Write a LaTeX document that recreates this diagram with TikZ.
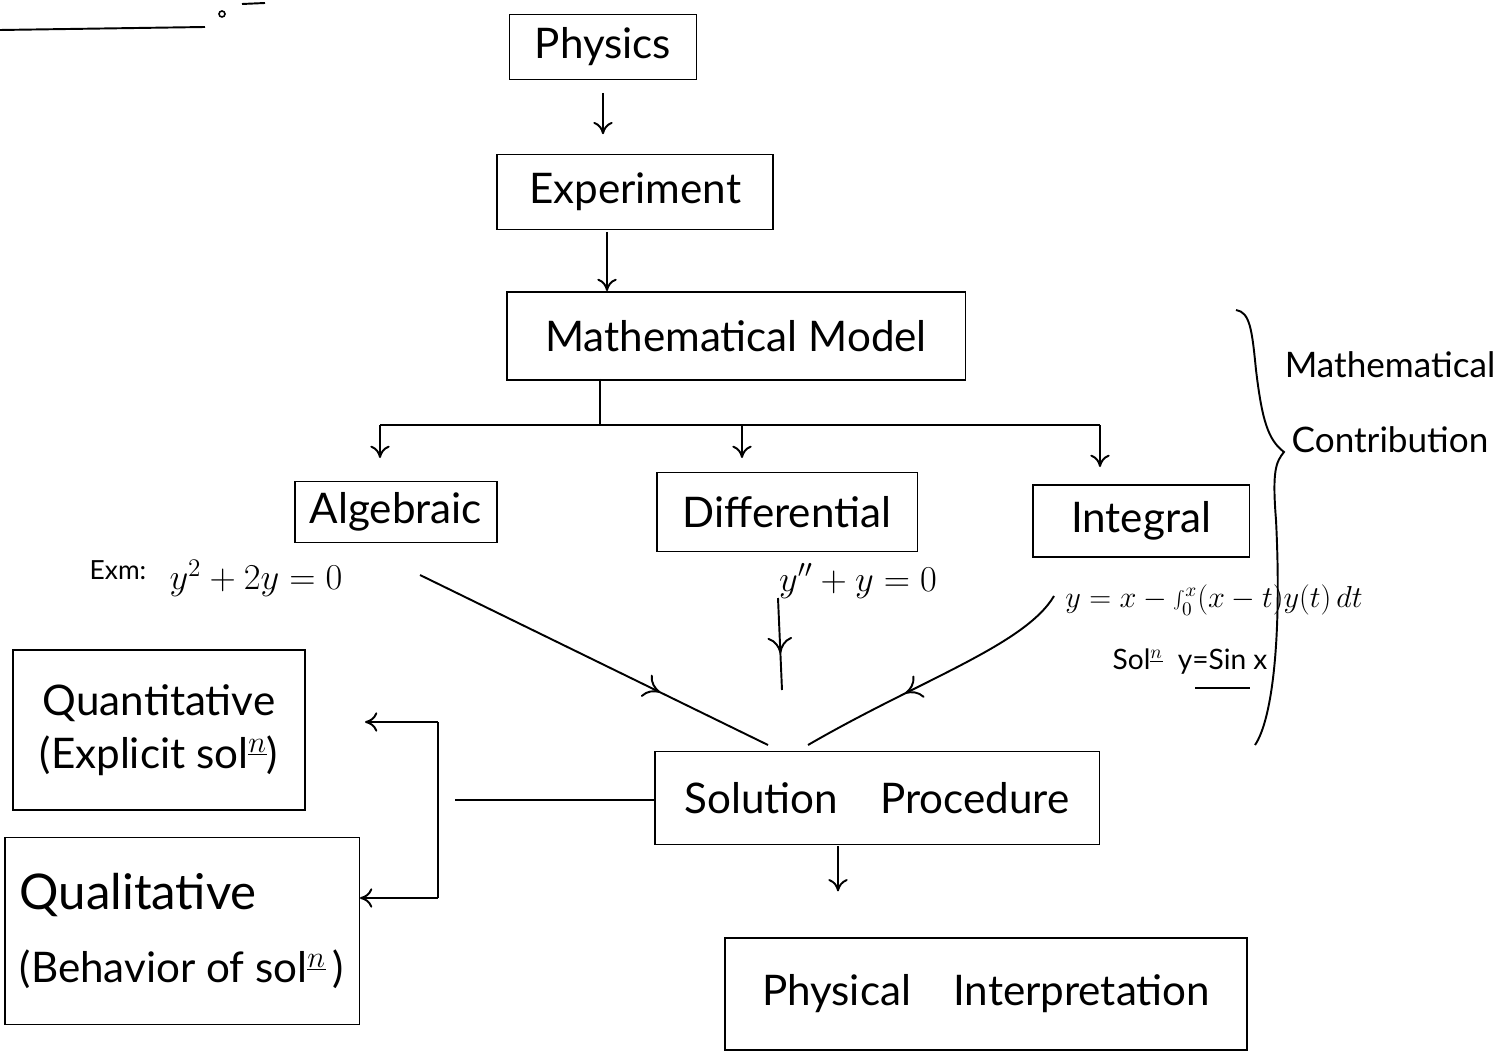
\documentclass[tikz,border=0pt]{standalone}
\usepackage{fontspec}
\setmainfont{Lato}
\usetikzlibrary{arrows.meta,decorations.markings}
\begin{document}
\begin{tikzpicture}[x=0.02cm,y=-0.02cm, line width=1.1pt,
 box/.style={draw, rectangle, inner sep=0pt, font=\fontsize{24}{28}\selectfont},
 lbl/.style={inner sep=0pt, font=\fontsize{20}{24}\selectfont},
 arr/.style={-{To[length=7pt,width=11pt]}},
 midarr/.style={postaction={decorate},decoration={markings,mark=at position #1 with {\arrow{To[length=9pt,width=14pt]}}}}
]
\useasboundingbox (0,0) rectangle (1494,1057);

% cut-off heading fragment
\draw (0,30) -- (205,27);
\draw[line width=0.9pt] (222,14) circle (3);
\draw (242,4) -- (265,3);

% main boxes
\node[box, minimum width=3.74cm, minimum height=1.3cm] (phys) at (603,47) {Physics};
\node[box, minimum width=5.52cm, minimum height=1.5cm] (exp) at (635,192) {Experiment};
\node[box, minimum width=9.18cm, minimum height=1.76cm] (mm) at (736,336) {Mathematical Model};
\node[box, minimum width=4.04cm, minimum height=1.22cm] (alg) at (396,512) {Algebraic};
\node[box, minimum width=5.22cm, minimum height=1.58cm] (dif) at (787,512) {Differential};
\node[box, minimum width=4.34cm, minimum height=1.44cm] (int) at (1141,521) {Integral};
\node[box, minimum width=8.9cm, minimum height=1.86cm] (sp) at (877,798) {Solution\quad Procedure};
\node[box, minimum width=10.46cm, minimum height=2.24cm] (pi) at (986,994) {Physical\quad Interpretation};
\node[box, minimum width=5.84cm, minimum height=3.2cm, align=center] (quant) at (159,730)
  {Quantitative\\[2pt](Explicit sol$^{\underline{n}}$)};
\node[box, minimum width=7.1cm, minimum height=3.74cm, align=left] (qual) at (182,931)
  {{\fontsize{28}{32}\selectfont Qualitative}\\[14pt](Behavior of sol$^{\underline{n}}$\,)};

% top chain
\draw[arr, shorten <=7pt, shorten >=11pt] (phys.south) -- (phys.south |- exp.north);
\coordinate (e1) at (607,232);
\draw[arr] (e1) -- (e1 |- mm.north);

% branching
\coordinate (m1) at (600,379);
\coordinate (br) at (600,425);
\coordinate (b1) at (380,425);
\coordinate (b2) at (742,425);
\coordinate (b3) at (1100,425);
\draw (m1) -- (br);
\draw (b1) -- (b3);
\draw[arr] (b1) -- ++(0,33);
\draw[arr] (b2) -- ++(0,33);
\draw[arr] (b3) -- ++(0,42);

% examples
\node[inner sep=0pt, font=\fontsize{15}{18}\selectfont] (exm) at (118,570) {Exm:};
\node[lbl] (eq1) at (256,578) {$y^2+2y=0$};
\node[lbl] (eq2) at (858,581) {$y''+y=0$};
\node[inner sep=0pt, font=\fontsize{16}{19}\selectfont] (eq3) at (1214,600) {$y=x-\int_0^x(x-t)y(t)\,dt$};
\node[inner sep=0pt, font=\fontsize{16}{19}\selectfont] (sol) at (1190,662) {Sol$^{\underline{n}}$\; y=Sin x};
\coordinate (u1) at (1195,688);
\coordinate (u2) at (1250,688);
\draw (u1) -- (u2);

% arrows into solution procedure
\coordinate (a1) at (420,575);
\coordinate (s1) at (768,745);
\draw[midarr=0.69] (a1) -- (s1);
\coordinate (a2) at (778,598);
\coordinate (s2) at (782,690);
\draw[midarr=0.6] (a2) -- (s2);
\coordinate (a3) at (1054,596);
\coordinate (s3) at (808,745);
\draw[midarr=0.62] (a3) .. controls (1025,645) and (920,680) .. (s3);

% brace
\coordinate (t1) at (1236,310);
\coordinate (tp) at (1284,452);
\coordinate (t2) at (1255,745);
\draw (t1) .. controls (1250,312) and (1252,330) .. (1256,370)
      .. controls (1262,420) and (1268,440) .. (tp)
      .. controls (1276,462) and (1272,470) .. (1276,520)
      .. controls (1282,640) and (1272,720) .. (t2);
\node[inner sep=0pt, font=\fontsize{20}{24}\selectfont] (mc1) at (1390,365) {Mathematical};
\node[inner sep=0pt, font=\fontsize{20}{24}\selectfont] (mc2) at (1390,440) {Contribution};

% outputs to the left
\coordinate (l1) at (455,800);
\draw (sp.west |- l1) -- (l1);
\coordinate (v1) at (438,722);
\coordinate (v2) at (438,898);
\draw (v1) -- (v2);
\draw[arr] (v1) -- (365,722);
\draw[arr] (v2) -- (360,898);

% down to interpretation
\coordinate (d1) at (838,846);
\draw[arr, shorten >=26pt] (d1) -- (d1 |- pi.north);
\end{tikzpicture}
\end{document}
